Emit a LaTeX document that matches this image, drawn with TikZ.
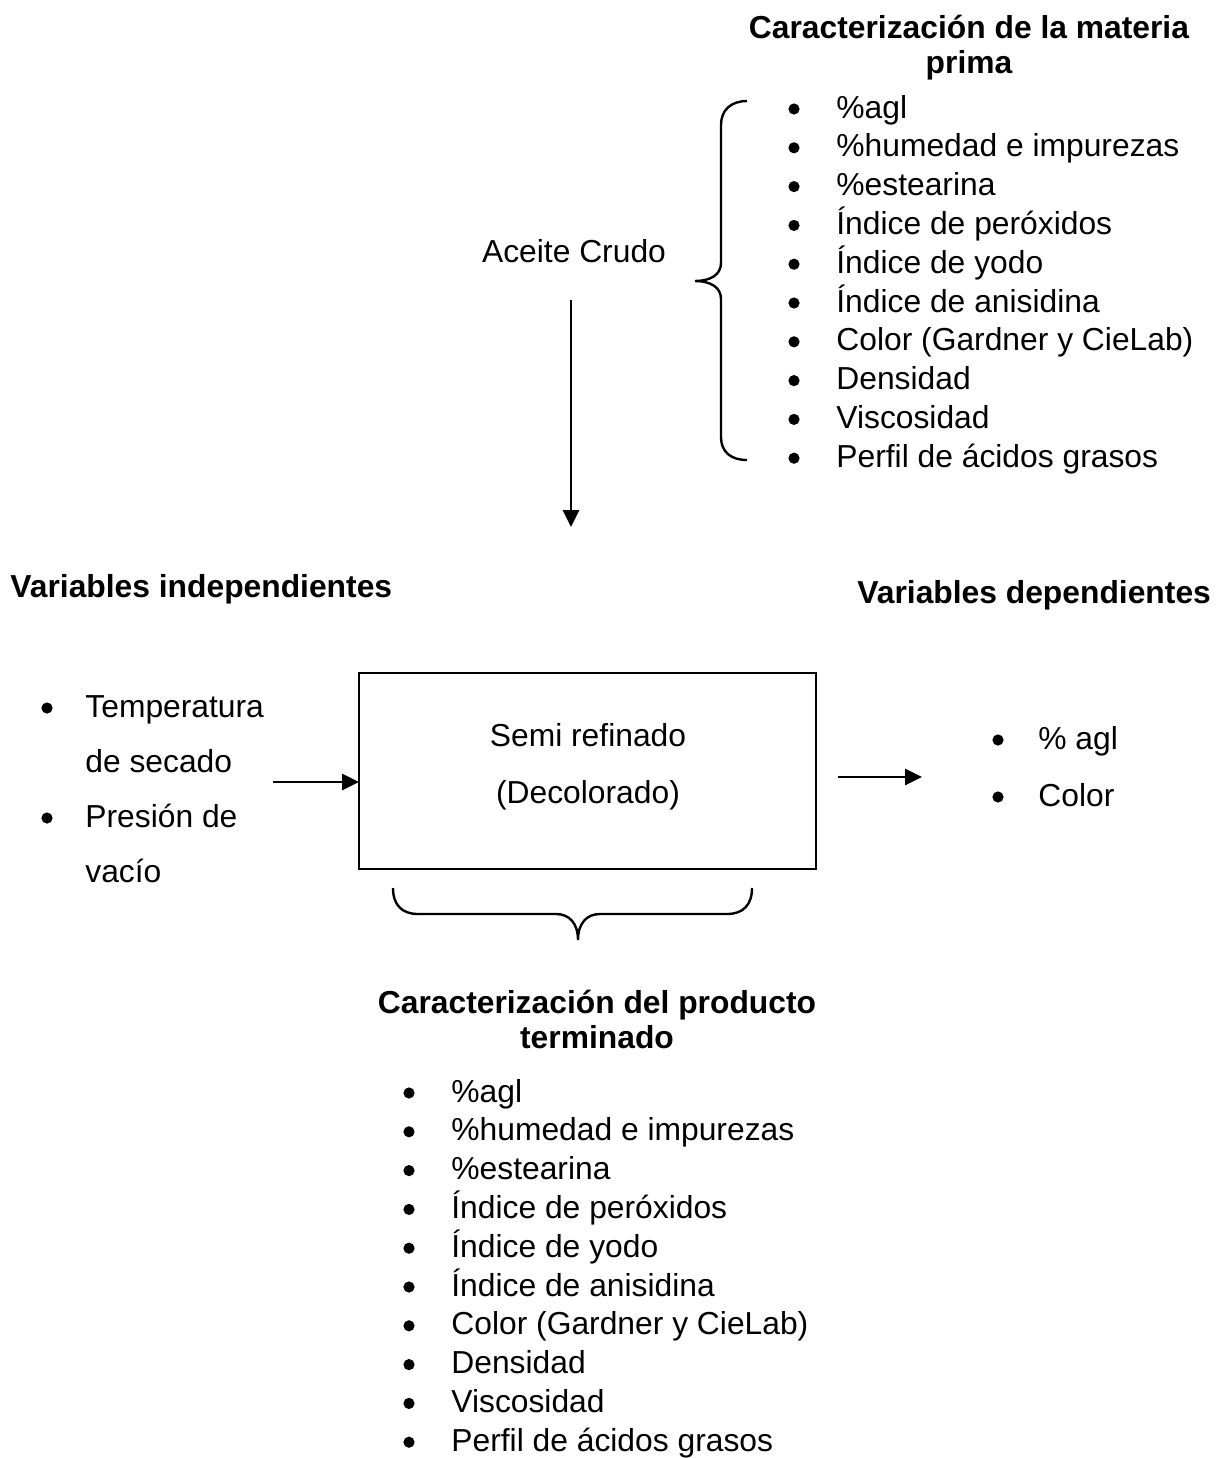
\documentclass[tikz,border=0pt]{standalone}
\usepackage{fontspec}
\setmainfont{Liberation Sans}
\usetikzlibrary{arrows.meta}
\begin{document}
\begin{tikzpicture}[x=0.5pt,y=-0.5pt,
  txt/.style={inner sep=0pt,anchor=base west,font=\fontsize{15.9}{19}\selectfont},
  ctxt/.style={inner sep=0pt,anchor=base,font=\fontsize{15.9}{19}\selectfont},
  btxt/.style={inner sep=0pt,anchor=base,font=\fontsize{15.9}{19}\selectfont\bfseries},
  bltxt/.style={inner sep=0pt,anchor=base west,font=\fontsize{15.9}{19}\selectfont\bfseries},
  bul/.style={circle,fill=black,inner sep=0pt,minimum size=5.6pt},
  arr/.style={line width=1.35pt,-{Triangle[length=8.5pt,width=8pt]}},
  brace/.style={line width=1.2pt},
  procbox/.style={draw,line width=1pt,outer sep=0pt,minimum width=228.5pt,minimum height=98pt,inner sep=0pt}]
\useasboundingbox (0,0) rectangle (1226,1458);
% top title
\node[btxt] (t1) at (969,38) {Caracterización de la materia};
\node[btxt] (t2) at (969,73) {prima};
% top list
\foreach \i/\t in {0/\%agl,1/\%humedad e impurezas,2/\%estearina,3/Índice de peróxidos,4/Índice de yodo,5/Índice de anisidina,6/Color (Gardner y CieLab),7/Densidad,8/Viscosidad,9/Perfil de ácidos grasos}{
  \node[bul] (tb\i) at (794,{109+38.8*\i}) {};
  \node[txt] (tl\i) at (836,{118+38.8*\i}) {\t};
}
% brace top
\draw[brace] (747,101) .. controls (731,101) and (721,110) .. (721,125) -- (721,263)
  .. controls (721,275) and (710,281) .. (695,281)
  .. controls (710,281) and (721,287) .. (721,299) -- (721,437)
  .. controls (721,452) and (731,460) .. (747,460);
\node[ctxt] (crudo) at (574,262) {Aceite Crudo};
\coordinate (d1) at (571,300);
\coordinate (d2) at (571,527);
\draw[arr] (d1) -- (d2);
% headings
\node[bltxt] (vi) at (10,597) {Variables independientes};
\node[bltxt] (vd) at (857,603) {Variables dependientes};
% left list
\node[bul] (lb1) at (47,708) {};
\node[bul] (lb2) at (47,818) {};
\node[txt] (l1) at (85,717) {Temperatura};
\node[txt] (l2) at (85,772) {de secado};
\node[txt] (l3) at (85,827) {Presión de};
\node[txt] (l4) at (85,882) {vacío};
% box
\node[procbox] (box) at (587.5,771) {};
\node[ctxt] (s1) at (588,746) {Semi refinado};
\node[ctxt] (s2) at (588,803) {(Decolorado)};
\coordinate (ain) at (273,782);
\draw[arr] (ain) -- (ain -| box.west);
\coordinate (aout1) at (838,777);
\coordinate (aout2) at (922,777);
\draw[arr] (aout1) -- (aout2);
% right list
\node[bul] (rb1) at (998,740) {};
\node[bul] (rb2) at (998,797) {};
\node[txt] (r1) at (1038,749) {\% agl};
\node[txt] (r2) at (1038,806) {Color};
% bottom brace
\draw[brace] (393,888) .. controls (393,905) and (402,914) .. (418,914) -- (556,914)
  .. controls (569,914) and (578,923) .. (578,940)
  .. controls (578,923) and (587,914) .. (600,914) -- (727,914)
  .. controls (743,914) and (752,905) .. (752,888);
% bottom title
\node[btxt] (b1) at (597,1013) {Caracterización del producto};
\node[btxt] (b2) at (597,1048) {terminado};
\foreach \i/\t in {0/\%agl,1/\%humedad e impurezas,2/\%estearina,3/Índice de peróxidos,4/Índice de yodo,5/Índice de anisidina,6/Color (Gardner y CieLab),7/Densidad,8/Viscosidad,9/Perfil de ácidos grasos}{
  \node[bul] (bb\i) at (409,{1093+38.8*\i}) {};
  \node[txt] (bl\i) at (451,{1102+38.8*\i}) {\t};
}
\end{tikzpicture}
\end{document}
